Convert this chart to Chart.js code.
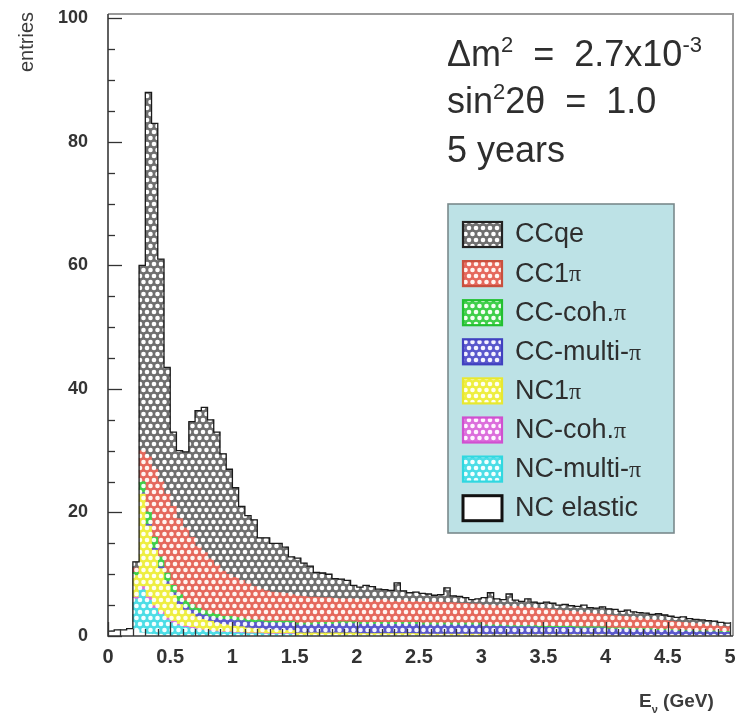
<!DOCTYPE html>
<html><head><meta charset="utf-8">
<script src="https://cdn.jsdelivr.net/npm/chart.js@4.4.1/dist/chart.umd.min.js"></script>
<style>html,body{margin:0;padding:0;background:#fff;}#wrap{width:737px;height:715px;position:relative;}</style>
</head><body><div id="wrap"><canvas id="c" width="737" height="715"></canvas></div>
<script>
// ---------------- data (entries per 0.05 GeV bin, 0 .. 5 GeV) ----------------
const binWidth = 0.05;
const xTicks = [0, 0.5, 1, 1.5, 2, 2.5, 3, 3.5, 4, 4.5, 5];
const yTicks = [0, 20, 40, 60, 80, 100];
const legendLabels = ['CCqe', 'CC1π', 'CC-coh.π', 'CC-multi-π', 'NC1π', 'NC-coh.π', 'NC-multi-π', 'NC elastic'];

const ncElastic = [0.8,1.0,1.0,1.2,1.0,0.5,0.3,0.2,0.1,0,
  0,0,0,0,0,0,0,0,0,0, 0,0,0,0,0,0,0,0,0,0, 0,0,0,0,0,0,0,0,0,0, 0,0,0,0,0,0,0,0,0,0,
  0,0,0,0,0,0,0,0,0,0, 0,0,0,0,0,0,0,0,0,0, 0,0,0,0,0,0,0,0,0,0, 0,0,0,0,0,0,0,0,0,0, 0,0,0,0,0,0,0,0,0,0];
const ncMultiPi = [0,0,0,0,5,7,5.5,4.3,3.4,2.6,
  2.1,1.7,1.4,1.2,1.0,0.9,0.8,0.7,0.6,0.6,
  0.5,0.5,0.4,0.4,0.4,0.3,0.3,0.3,0.3,0.3,
  0.1,0.1,0.1,0.1,0.1,0.1,0.1,0.1,0.1,0.1,
  0.1,0.1,0.1,0.1,0.1,0.1,0.1,0.1,0.1,0.1,
  0,0,0,0,0,0,0,0,0,0, 0,0,0,0,0,0,0,0,0,0, 0,0,0,0,0,0,0,0,0,0, 0,0,0,0,0,0,0,0,0,0, 0,0,0,0,0,0,0,0,0,0];
const ncCohPi = [0,0,0,0,0.3,0.5,0.5,0.4,0.4,0.3,
  0.3,0.2,0.2,0.2,0.2,0.1,0.1,0.1,0.1,0.1,
  0.1,0.1,0.1,0.1,0.1,0.1,0.1,0.1,0.1,0.1,
  0,0,0,0,0,0,0,0,0,0, 0,0,0,0,0,0,0,0,0,0, 0,0,0,0,0,0,0,0,0,0, 0,0,0,0,0,0,0,0,0,0,
  0,0,0,0,0,0,0,0,0,0, 0,0,0,0,0,0,0,0,0,0, 0,0,0,0,0,0,0,0,0,0];
const nc1Pi = [0,0,0,0,3.5,15,11.5,9,7,5.5,
  4.2,3.2,2.6,2.2,1.9,1.7,1.5,1.3,1.2,1.1,
  1.0,0.9,0.8,0.7,0.7,0.6,0.6,0.5,0.5,0.5,
  0.4,0.4,0.4,0.4,0.4,0.4,0.4,0.4,0.4,0.4,
  0.3,0.3,0.3,0.3,0.3,0.3,0.3,0.3,0.3,0.3,
  0.3,0.3,0.3,0.3,0.3,0.3,0.3,0.3,0.3,0.3,
  0.2,0.2,0.2,0.2,0.2,0.2,0.2,0.2,0.2,0.2,
  0.2,0.2,0.2,0.2,0.2,0.2,0.2,0.2,0.2,0.2,
  0.1,0.1,0.1,0.1,0.1,0.1,0.1,0.1,0.1,0.1,
  0.1,0.1,0.1,0.1,0.1,0.1,0.1,0.1,0.1,0.1];
const ccMultiPi = [0,0,0,0,0,0.2,0.3,0.3,0.3,0.4,
  0.4,0.5,0.5,0.6,0.6,0.7,0.7,0.8,0.8,0.9,
  0.9,1.0,1.0,1.0,1.1,1.1,1.1,1.2,1.2,1.2,
  1.3,1.3,1.3,1.4,1.4,1.4,1.4,1.5,1.5,1.5,
  1.5,1.5,1.5,1.5,1.5,1.5,1.5,1.5,1.5,1.5,
  1.5,1.5,1.5,1.5,1.5,1.5,1.5,1.5,1.5,1.5,
  1.4,1.4,1.4,1.4,1.3,1.3,1.3,1.3,1.3,1.2,
  1.2,1.2,1.2,1.2,1.2,1.1,1.1,1.1,1.1,1.1,
  1.0,1.0,1.0,1.0,0.9,0.9,0.9,0.9,0.8,0.8,
  0.8,0.7,0.7,0.7,0.6,0.6,0.6,0.6,0.5,0.5];
const ccCohPi = [0,0,0,0,0.5,1.8,2.0,1.8,1.6,1.4,
  1.2,1.1,1.0,0.9,0.8,0.7,0.6,0.6,0.5,0.5,
  0.5,0.4,0.4,0.4,0.3,0.3,0.3,0.3,0.3,0.3,
  0.3,0.3,0.3,0.3,0.3,0.3,0.3,0.3,0.3,0.3,
  0.3,0.3,0.3,0.3,0.3,0.3,0.3,0.3,0.3,0.3,
  0.3,0.3,0.3,0.3,0.3,0.3,0.3,0.3,0.3,0.3,
  0.2,0.2,0.2,0.2,0.2,0.2,0.2,0.2,0.2,0.2,
  0.2,0.2,0.2,0.2,0.2,0.2,0.2,0.2,0.2,0.2,
  0.2,0.2,0.2,0.2,0.2,0.2,0.2,0.2,0.2,0.2,
  0.15,0.15,0.15,0.15,0.15,0.15,0.15,0.15,0.15,0.15];
const cc1Pi = [0,0,0,0,0.7,5,8.9,11,12.2,12.8,
  12.8,12.3,11.8,10.9,10,9.4,8.8,8,7.3,6.8,
  6.5,6.1,5.8,5.4,5.0,4.9,4.7,4.6,4.5,4.3,
  4.4,4.3,4.2,4.1,4.0,4.0,3.9,3.7,3.7,3.7,
  3.7,3.8,3.5,3.6,3.7,3.5,3.4,3.6,3.4,3.4,
  3.5,3.4,3.4,3.4,3.3,3.3,3.2,3.2,3.1,3.1,
  3.2,3.2,3.1,3.1,3.1,3.1,3.0,3.0,2.9,2.9,
  2.8,2.7,2.6,2.5,2.4,2.4,2.3,2.2,2.1,2.0,
  2.1,2.0,1.9,1.8,1.8,1.7,1.6,1.5,1.5,1.4,
  1.35,1.35,1.25,1.15,1.15,1.05,0.95,0.85,0.85,0.75];
const ccqe = [0,0,0,0,1,30,59,56,36,20.5,
  12,11,12.3,18.7,22,23.5,22.5,21.5,19,17,
  14.5,12,11,10.8,8.3,8.6,7.9,8.0,7.5,6.1,
  6.1,5.4,5.0,4.0,4.0,3.8,3.2,3.2,3.0,2.2,
  2.0,2.2,2.3,1.8,1.6,1.7,3.0,1.5,1.4,1.5,
  1.3,1.3,1.1,1.2,2.4,1.1,1.1,0.9,0.7,0.8,
  1.2,2.0,1.1,1.0,2.0,1.0,0.9,1.3,0.9,0.8,
  1.1,1.0,0.8,1.0,0.9,0.9,1.2,0.9,0.9,1.2,
  1.0,1.0,0.8,1.1,0.9,0.9,0.9,0.8,1.0,0.9,
  0.8,0.7,0.9,0.7,0.7,0.7,0.7,0.7,0.6,0.6];

// ---------------- styling ----------------
const ctx0 = document.getElementById('c').getContext('2d');
function makePattern(bg, dot) {
  const t = document.createElement('canvas'); t.width = 7; t.height = 12;
  const g = t.getContext('2d');
  g.fillStyle = bg; g.fillRect(0, 0, 7, 12);
  g.fillStyle = dot;
  [[0,0],[7,0],[0,12],[7,12],[3.5,6]].forEach(([x,y]) => { g.beginPath(); g.arc(x, y, 2.3, 0, Math.PI*2); g.fill(); });
  return ctx0.createPattern(t, 'repeat');
}
const styles = {
  'CCqe':       {bg:'#6f6f6f', dot:'#ffffff', edge:'#222'},
  'CC1π':       {bg:'#e5685c', dot:'#fff4f0', edge:'#c8503e'},
  'CC-coh.π':   {bg:'#3fcf4a', dot:'#f4fff4', edge:'#22c030'},
  'CC-multi-π': {bg:'#5a58cc', dot:'#f4f4ff', edge:'#4040c0'},
  'NC1π':       {bg:'#eeee40', dot:'#fffff0', edge:'#e8e830'},
  'NC-coh.π':   {bg:'#dc6edc', dot:'#fff4ff', edge:'#d050d0'},
  'NC-multi-π': {bg:'#4cdde6', dot:'#f4ffff', edge:'#30d8e0'},
  'NC elastic': {bg:'#ffffff', dot:'#ffffff', edge:'#111'}
};
Object.values(styles).forEach(s => s.pattern = makePattern(s.bg, s.dot));

// stacking order bottom -> top
const stackSeries = [
  ['NC elastic', ncElastic], ['NC-multi-π', ncMultiPi], ['NC-coh.π', ncCohPi], ['NC1π', nc1Pi],
  ['CC-multi-π', ccMultiPi], ['CC-coh.π', ccCohPi], ['CC1π', cc1Pi], ['CCqe', ccqe]
];
const centers = ccqe.map((_, i) => +((i + 0.5) * binWidth).toFixed(4));
const totals = ccqe.map((_, i) => stackSeries.reduce((a, s) => a + s[1][i], 0));
const outline = totals.map((v, i) => ({x: +(i * binWidth).toFixed(4), y: v}));
outline.push({x: +(totals.length * binWidth).toFixed(4), y: totals[totals.length - 1]});

const datasets = stackSeries.map(([label, vals]) => ({
  type: 'bar', label,
  data: vals.map((v, i) => ({x: centers[i], y: v})),
  backgroundColor: styles[label].pattern,
  borderWidth: 0, barPercentage: 1, categoryPercentage: 1, stack: 'hist', order: 1
}));
datasets.push({type: 'line', label: 'outline', data: outline, stepped: true, borderColor: '#1a1a1a',
  borderWidth: 1.3, pointRadius: 0, fill: false, stack: 'outline', order: 0});

const SANS = "'Liberation Sans', Arial, Helvetica, sans-serif";

function segText(ctx, x, y, segs) {
  let cx = x;
  segs.forEach(([t, f, dy]) => { ctx.font = f; ctx.fillText(t, cx, y + (dy || 0)); cx += ctx.measureText(t).width; });
  return cx;
}

const decor = {
  id: 'decor',
  afterDraw(chart) {
    const c = chart.ctx, a = chart.chartArea, xs = chart.scales.x, ys = chart.scales.y;
    c.save();
    // frame
    c.lineWidth = 2; c.strokeStyle = '#9a9a9a';
    c.beginPath(); c.moveTo(a.left, a.top); c.lineTo(a.right, a.top); c.lineTo(a.right, a.bottom); c.stroke();
    c.strokeStyle = '#3a3a3a'; c.lineWidth = 1.6;
    c.beginPath(); c.moveTo(a.left, a.top); c.lineTo(a.left, a.bottom); c.lineTo(a.right, a.bottom); c.stroke();
    // inner ticks
    c.lineWidth = 1.3; c.strokeStyle = '#333';
    for (let v = 0; v <= 100; v += 5) {
      const y = Math.round(ys.getPixelForValue(v)) + 0.5, L = v % 20 === 0 ? 14 : 7;
      c.beginPath(); c.moveTo(a.left, y); c.lineTo(a.left + L, y); c.stroke();
    }
    for (let k = 0; k <= 50; k++) {
      const x = Math.round(xs.getPixelForValue(k / 10)) + 0.5, L = k % 5 === 0 ? 14 : 7;
      c.beginPath(); c.moveTo(x, a.bottom); c.lineTo(x, a.bottom - L); c.stroke();
    }
    // axis titles
    c.fillStyle = '#3c3c3c'; c.textBaseline = 'alphabetic';
    c.save(); c.translate(33, 42); c.rotate(-Math.PI / 2); c.textAlign = 'center';
    c.font = '20px ' + SANS; c.fillText('entries', 0, 0); c.restore();
    c.textAlign = 'left';
    segText(c, 639, 707, [['E', 'bold 19px ' + SANS], ['ν', 'bold 11px ' + SANS, 6], [' (GeV)', 'bold 19px ' + SANS]]);
    // annotation
    c.fillStyle = '#2e2e2e';
    const F = '36px ' + SANS, Fs = '22px ' + SANS;
    segText(c, 447, 66, [['Δm', F], ['2', Fs, -14], ['  =  2.7x10', F], ['-3', Fs, -14]]);
    segText(c, 447, 113, [['sin', F], ['2', Fs, -14], ['2θ  =  1.0', F]]);
    segText(c, 447, 162, [['5 years', F]]);
    // legend
    const L = {x: 448, y: 204, w: 226, h: 329};
    c.fillStyle = '#bde2e6'; c.fillRect(L.x, L.y, L.w, L.h);
    c.strokeStyle = '#7a8a8c'; c.lineWidth = 1.6; c.strokeRect(L.x, L.y, L.w, L.h);
    legendLabels.forEach((lab, i) => {
      const cy = 234 + i * 39.1, st = styles[lab];
      c.fillStyle = st.pattern; c.fillRect(463, cy - 12, 39, 25);
      c.strokeStyle = st.edge; c.lineWidth = lab === 'NC elastic' ? 3 : 2.2;
      c.strokeRect(463, cy - 12, 39, 25);
      c.fillStyle = '#2e2e2e'; c.textBaseline = 'middle';
      const parts = lab.split('π');
      const segs = [];
      parts.forEach((p, j) => {
        if (p) segs.push([p, '27px ' + SANS]);
        if (j < parts.length - 1) segs.push(['π', "24px 'Liberation Serif', 'DejaVu Serif', serif", 1]);
      });
      segText(c, 515, cy + 1, segs);
    });
    c.restore();
  }
};

new Chart(document.getElementById('c'), {
  data: {datasets},
  options: {
    responsive: false, animation: false, devicePixelRatio: 1,
    layout: {padding: {top: 14, right: 4, left: 0, bottom: 0}},
    plugins: {legend: {display: false}, tooltip: {enabled: false}},
    scales: {
      x: {type: 'linear', min: 0, max: 5.024, stacked: true, offset: false,
        afterBuildTicks: s => { s.ticks = xTicks.map(v => ({value: v})); },
        afterFit: s => { s.height = 79; s.paddingLeft = 0; s.paddingRight = 0; },
        ticks: {autoSkip: false, maxRotation: 0, padding: 9, color: '#333',
          font: {family: SANS, size: 20, weight: 'bold'}, callback: v => String(v)},
        grid: {display: false, drawTicks: false}, border: {display: false}},
      y: {type: 'linear', min: 0, max: 100.7, stacked: true,
        afterBuildTicks: s => { s.ticks = yTicks.map(v => ({value: v})); },
        afterFit: s => { s.width = 108; s.paddingTop = 0; s.paddingBottom = 0; },
        ticks: {padding: 20, color: '#333', font: {family: SANS, size: 18, weight: 'bold'}, callback: v => String(v)},
        grid: {display: false, drawTicks: false}, border: {display: false}}
    }
  },
  plugins: [decor]
});
</script>
</body></html>
